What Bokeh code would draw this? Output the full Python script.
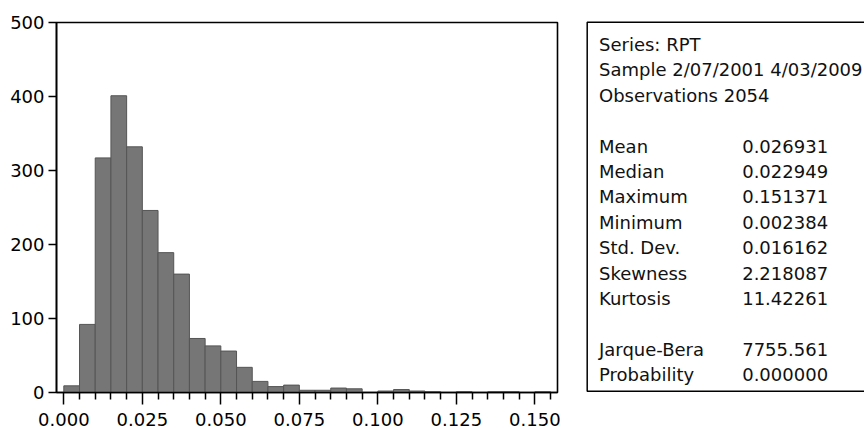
from bokeh.plotting import figure
from bokeh.models import Range1d, FixedTicker, PrintfTickFormatter, ColumnDataSource
from bokeh.layouts import row
from bokeh.embed import file_html
from bokeh.resources import INLINE
from bokeh.core.properties import value

# ---------------- data ----------------
bin_width = 0.005
bin_starts = [0.000, 0.005, 0.010, 0.015, 0.020, 0.025, 0.030, 0.035, 0.040, 0.045,
              0.050, 0.055, 0.060, 0.065, 0.070, 0.075, 0.080, 0.085, 0.090, 0.095,
              0.100, 0.105, 0.110, 0.115, 0.120, 0.125, 0.130, 0.135, 0.140, 0.145,
              0.150]
counts = [9, 92, 317, 401, 332, 246, 189, 160, 73, 63,
          56, 34, 15, 8, 10, 3, 3, 6, 5, 0,
          2, 4, 2, 1, 0, 1, 0, 1, 1, 0,
          1]

x_major_ticks = [0.000, 0.025, 0.050, 0.075, 0.100, 0.125, 0.150]
x_minor_ticks = [0.005, 0.010, 0.015, 0.020, 0.030, 0.035, 0.040, 0.045,
                 0.055, 0.060, 0.065, 0.070, 0.080, 0.085, 0.090, 0.095,
                 0.105, 0.110, 0.115, 0.120, 0.130, 0.135, 0.140, 0.145, 0.155]
y_ticks = [0, 100, 200, 300, 400, 500]

header_lines = ["Series: RPT", "Sample 2/07/2001 4/03/2009", "Observations 2054"]
stat_names = ["Mean", "Median", "Maximum", "Minimum", "Std. Dev.", "Skewness", "Kurtosis"]
stat_values = ["0.026931", "0.022949", "0.151371", "0.002384", "0.016162", "2.218087", "11.42261"]
test_names = ["Jarque-Bera", "Probability"]
test_values = ["7755.561", "0.000000"]

FONT = "DejaVu Sans"
TOTAL_H = 428

# ---------------- histogram ----------------
src = ColumnDataSource(dict(
    left=bin_starts,
    right=[b + bin_width for b in bin_starts],
    top=counts,
    bottom=[0] * len(counts),
))

p = figure(width=584, height=TOTAL_H,
           x_range=Range1d(-0.00233, 0.1572), y_range=Range1d(0, 500),
           output_backend="svg", toolbar_location=None,
           min_border_left=56, min_border_right=27, min_border_top=22, min_border_bottom=35)
p.frame_align = False
p.quad(left="left", right="right", top="top", bottom="bottom", source=src,
       fill_color="#767676", line_color="#555555", line_width=1)

p.xgrid.visible = False
p.ygrid.visible = False
p.background_fill_color = "white"
p.border_fill_color = "white"
p.outline_line_color = "black"
p.outline_line_width = 1.6

p.xaxis.ticker = FixedTicker(ticks=x_major_ticks, minor_ticks=x_minor_ticks)
p.xaxis.formatter = PrintfTickFormatter(format="%.3f")
p.yaxis.ticker = FixedTicker(ticks=y_ticks)

for ax in (p.xaxis[0], p.yaxis[0]):
    ax.axis_line_color = "black"
    ax.axis_line_width = 1.6
    ax.major_tick_line_color = "black"
    ax.major_tick_line_width = 1.5
    ax.minor_tick_line_color = "black"
    ax.minor_tick_line_width = 1.5
    ax.major_tick_in = 0
    ax.minor_tick_in = 0
    ax.major_label_text_font = FONT
    ax.major_label_text_font_size = "18px"
    ax.major_label_text_color = "black"

p.xaxis.major_tick_out = 12
p.xaxis.minor_tick_out = 7
p.xaxis.major_label_standoff = 8
p.yaxis.major_tick_out = 8
p.yaxis.minor_tick_line_color = None
p.yaxis.major_label_standoff = 4

# ---------------- statistics box ----------------
p2 = figure(width=280, height=TOTAL_H,
            x_range=Range1d(0, 280), y_range=Range1d(TOTAL_H, 0),
            output_backend="svg", toolbar_location=None,
            x_axis_location=None, y_axis_location=None, min_border=0)
p2.frame_align = False
p2.grid.visible = False
p2.outline_line_color = None
p2.background_fill_color = "white"
p2.border_fill_color = "white"

p2.quad(left=[2.7], right=[400], top=[21.7], bottom=[390.7],
        fill_color=None, line_color="black", line_width=1.5)

line_h = 25.4
first_base = 44.0
label_x = 14.5
value_x = 157.7

hdr_y = [first_base + i * line_h for i in range(len(header_lines))]
stat_y = [first_base + (4 + i) * line_h for i in range(len(stat_names))]
test_y = [first_base + (12 + i) * line_h for i in range(len(test_names))]

txt_kw = dict(text_font=value(FONT), text_font_size="18px", text_baseline="alphabetic",
              text_align="left", text_color="#111111")

p2.text(x=[label_x] * len(header_lines), y=hdr_y, text=header_lines, **txt_kw)
p2.text(x=[label_x] * len(stat_names), y=stat_y, text=stat_names, **txt_kw)
p2.text(x=[value_x] * len(stat_values), y=stat_y, text=stat_values, **txt_kw)
p2.text(x=[label_x] * len(test_names), y=test_y, text=test_names, **txt_kw)
p2.text(x=[value_x] * len(test_values), y=test_y, text=test_values, **txt_kw)

layout = row(p, p2)
open("out.html", "w").write(file_html(layout, INLINE))
